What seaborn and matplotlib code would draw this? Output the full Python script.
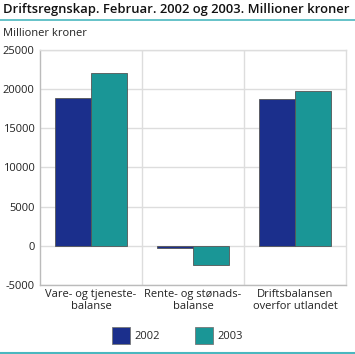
import matplotlib
matplotlib.use("Agg")
import matplotlib.pyplot as plt
import seaborn as sns
import pandas as pd
from matplotlib.ticker import FixedLocator
from matplotlib.lines import Line2D

# Data
categories = ["Vare- og tjeneste-\nbalanse", "Rente- og stønads-\nbalanse", "Driftsbalansen\noverfor utlandet"]
years = ["2002", "2003"]
values_2002 = [18900, -300, 18700]
values_2003 = [22100, -2400, 19700]
colors = ["#1b2f8c", "#1a9696"]

df = pd.DataFrame({
    "kategori": categories * 2,
    "år": [years[0]] * 3 + [years[1]] * 3,
    "verdi": values_2002 + values_2003,
})

sns.set_style("white")
plt.rcParams["font.family"] = ["Open Sans", "DejaVu Sans"]

fig = plt.figure(figsize=(3.55, 3.54), dpi=100)
ax = fig.add_axes([0.1127, 0.1949, 0.862, 0.664])

sns.barplot(data=df, x="kategori", y="verdi", hue="år", palette=colors, saturation=1,
            width=0.7, edgecolor="#555555", linewidth=0.6, ax=ax, legend=False)

ax.set_ylim(-5000, 25000)
ax.set_xlim(-0.5, 2.5)
ax.set_yticks(range(-5000, 25001, 5000))
ax.set_yticklabels([str(v) for v in range(-5000, 25001, 5000)], fontsize=8, color="#222222")
ax.tick_params(axis="x", labelsize=8, colors="#222222", length=0, pad=3)
ax.tick_params(axis="y", length=0, pad=4)
ax.xaxis.set_minor_locator(FixedLocator([0.5, 1.5]))
ax.grid(axis="y", color="#dddddd", linewidth=1)
ax.grid(axis="x", which="minor", color="#dddddd", linewidth=1)
ax.set_axisbelow(True)
for lbl in ax.get_xticklabels():
    lbl.set_linespacing(1.15)
ax.set_xlabel("")
ax.set_ylabel("")
for s in ax.spines.values():
    s.set_color("#dddddd")
    s.set_linewidth(1)
ax.spines["left"].set_color("#bbbbbb")
ax.spines["bottom"].set_color("#bbbbbb")

# Title and unit
fig.text(0.008, 0.972, "Driftsregnskap. Februar. 2002 og 2003. Millioner kroner",
         fontsize=9.4, fontweight="semibold", va="center", ha="left", color="#111111")
fig.add_artist(Line2D([0.0, 1.0], [0.943, 0.943], color="#4ab7bf", linewidth=1.2))
fig.text(0.008, 0.905, "Millioner kroner", fontsize=8, va="center", ha="left", color="#222222")
fig.add_artist(Line2D([0.0, 1.0], [0.004, 0.004], color="#4ab7bf", linewidth=1.5))

# Legend
handles = [plt.Rectangle((0, 0), 1, 1, facecolor=c, edgecolor="#777777", linewidth=0.6) for c in colors]
fig.legend(handles, years, loc="center", bbox_to_anchor=(0.5, 0.052), ncol=2,
           frameon=False, fontsize=8, handlelength=1.6, handleheight=2.0,
           handletextpad=0.4, columnspacing=3.2)

fig.savefig("out.png", dpi=100)
